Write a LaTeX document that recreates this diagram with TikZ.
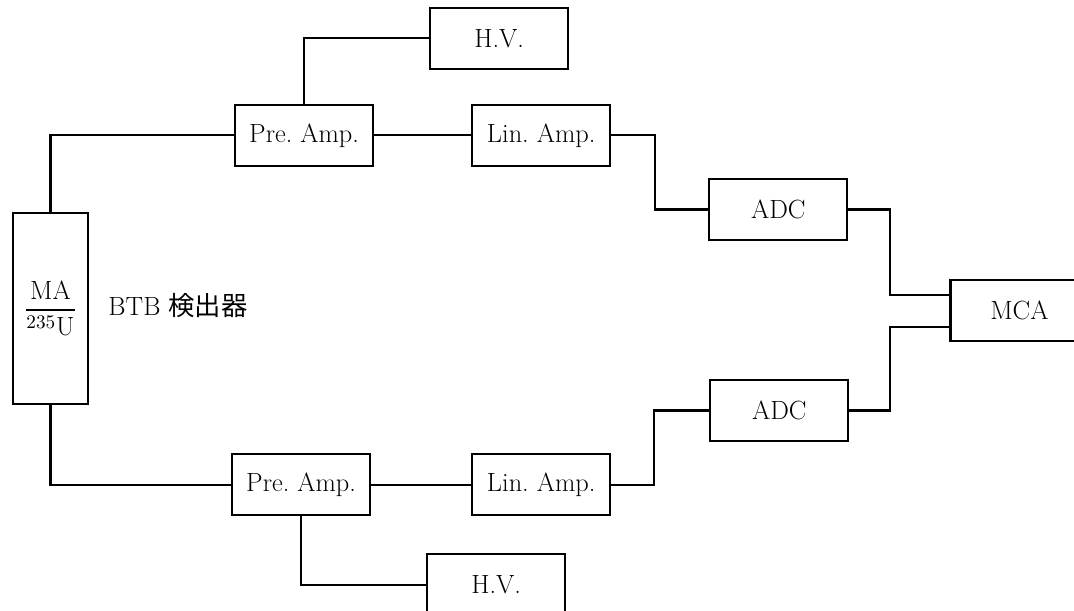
\documentclass[tikz,border=0pt]{standalone}
\usepackage{amsmath}
\usepackage{fontspec}
\newfontfamily\jpfont{Noto Sans CJK JP}
\usepackage{tikz}
\usetikzlibrary{positioning, calc}
\frenchspacing

\begin{document}
\begin{tikzpicture}[
        font=\fontsize{15}{18}\selectfont,
        block/.style = {rectangle, draw, line width=1.2pt, minimum width=2.76cm, minimum height=1.22cm, inner sep=0pt},
        det_block/.style = {rectangle, draw, line width=1.2pt, minimum width=1.5cm, minimum height=3.82cm, inner sep=0pt},
        line/.style = {draw, line width=1.2pt}
    ]
    \useasboundingbox (0,0) rectangle (21.48,-12.2);
    \clip (0,0) rectangle (21.48,-12.2);

    % Detector
    \node [det_block] (det) at (1.01,-6.17) {$\genfrac{}{}{1pt}{0}{\text{MA}}{{}^{235}\text{U}}$};
    \node [right=0.38cm of det, inner sep=0pt, yshift=0.05cm] (btb) {BTB {\jpfont 検出器}};

    % Upper chain
    \node [block, above right=0.9cm and 2.9cm of det] (pre_up) {Pre. Amp.};
    \node [block, right=1.94cm of pre_up] (lin_up) {Lin. Amp.};
    \node [block, above right=0.68cm and 1.1cm of pre_up] (hv_up) {H.V.};
    \node [block, below right=0.22cm and 1.94cm of lin_up] (adc_up) {ADC};

    % MCA
    \node [block, below right=0.76cm and 2.02cm of adc_up] (mca) {MCA};

    % Lower chain
    \node [block, below right=0.96cm and 2.84cm of det] (pre_lo) {Pre. Amp.};
    \node [block, right=2.0cm of pre_lo] (lin_lo) {Lin. Amp.};
    \node [block, below right=0.74cm and 1.1cm of pre_lo] (hv_lo) {H.V.};
    \node [block, above right=0.22cm and 1.96cm of lin_lo] (adc_lo) {ADC};

    % Edges
    \path [line] (det.north) |- (pre_up.west);
    \path [line] (pre_up.north) |- (hv_up.west);
    \path [line] (pre_up) -- (lin_up);
    \path [line] (lin_up.east) -- ++(0.88,0) |- (adc_up.west);
    \path [line] (adc_up.east) -- ++(0.84,0) |- ([yshift=3.2mm]mca.west);

    \path [line] (det.south) |- (pre_lo.west);
    \path [line] (pre_lo.south) |- (hv_lo.west);
    \path [line] (pre_lo) -- (lin_lo);
    \path [line] (lin_lo.east) -- ++(0.86,0) |- (adc_lo.west);
    \path [line] (adc_lo.east) -- ++(0.82,0) |- ([yshift=-3.2mm]mca.west);

\end{tikzpicture}
\end{document}
